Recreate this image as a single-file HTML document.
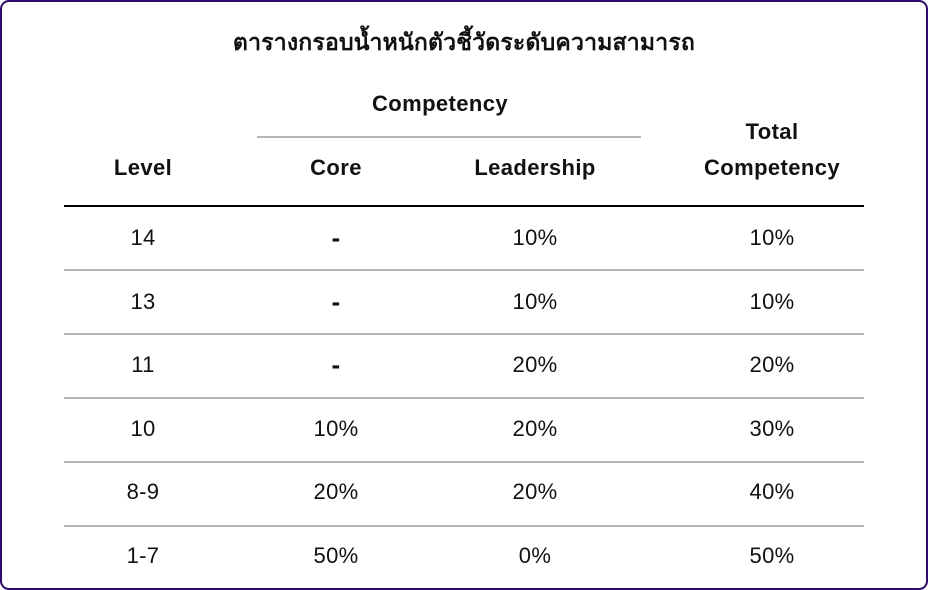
<!DOCTYPE html>
<html><head><meta charset="utf-8"><style>
*{margin:0;padding:0;box-sizing:border-box}
body{width:928px;height:590px;background:#fff;font-family:"Liberation Sans","Noto Sans CJK SC",sans-serif;color:#111;position:relative;overflow:hidden}
#frame{position:absolute;left:0;top:0;width:928px;height:590px;border:2px solid #2e0a6b;border-radius:9px}
.t{position:absolute;transform:translate(-50%,-50%);white-space:nowrap;font-size:22px;letter-spacing:0.3px}
.b{font-weight:bold;font-size:22px;letter-spacing:0.4px}
.ln{position:absolute;height:2px;background:#b5b5b5}
</style></head><body>
<div id="frame"></div>
<div class="t b" style="left:464px;top:43px;font-family:'Liberation Sans','Noto Sans CJK SC','WenQuanYi Zen Hei',sans-serif;font-size:23px;letter-spacing:0.2px">ตารางกรอบน้ำหนักตัวชี้วัดระดับความสามารถ</div>
<div class="t b" style="left:440px;top:104px">Competency</div>
<div class="ln" style="left:257px;top:136px;width:384px"></div>
<div class="t b" style="left:143px;top:168px">Level</div>
<div class="t b" style="left:336px;top:168px">Core</div>
<div class="t b" style="left:535px;top:168px">Leadership</div>
<div class="t b" style="left:772px;top:132px">Total</div>
<div class="t b" style="left:772px;top:168px">Competency</div>
<div class="ln" style="left:64px;top:205px;width:800px;background:#000"></div>
<div id="rows"></div>
<script>
const levels=["14","13","11","10","8-9","1-7"];
const core=["-","-","-","10%","20%","50%"];
const leadership=["10%","10%","20%","20%","20%","0%"];
const total=["10%","10%","20%","30%","40%","50%"];
const cols=[143,336,535,772];
const rowsEl=document.getElementById('rows');
levels.forEach((lv,i)=>{
  const y=238+i*63.6;
  [lv,core[i],leadership[i],total[i]].forEach((v,j)=>{
    const d=document.createElement('div');
    d.className='t';
    if(v==='-'){d.style.fontWeight='bold';d.style.fontSize='26px';}
    d.style.left=cols[j]+'px';d.style.top=y+'px';
    d.textContent=v;
    
    
    rowsEl.appendChild(d);
  });
  if(i<levels.length-1){
    const l=document.createElement('div');
    l.className='ln';
    l.style.left='64px';l.style.width='800px';l.style.top=(269+i*64)+'px';
    
    
    rowsEl.appendChild(l);
  }
});
</script>
</body></html>
